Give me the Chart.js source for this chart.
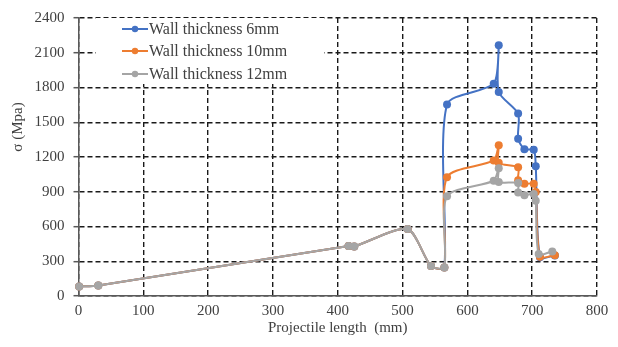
<!DOCTYPE html>
<html><head><meta charset="utf-8">
<script src="https://cdn.jsdelivr.net/npm/chart.js@4"></script>
<style>html,body{margin:0;padding:0;background:#fff;overflow:hidden}</style>
</head><body>
<canvas id="c" width="618" height="347" style="display:block;width:618px;height:347px"></canvas>
<script>
const seriesNames = ['Wall thickness 6mm', 'Wall thickness 10mm', 'Wall thickness 12mm'];
const seriesColors = ['#4472C4', '#ED7D31', '#A5A5A5'];
// shared segment (all three series)
const commonX = [1, 30.6, 416.7, 425.5, 507.8, 543.9, 564.5];
const commonY = [82, 91, 431, 428, 578, 258, 247];
// per-series tails
const tail6X  = [568.6, 640.6, 648.4, 648.4, 678.3, 678.3, 688, 702.4, 705.5, 712, 735];
const tail6Y  = [1654, 1833, 2164, 1762, 1575, 1357, 1267, 1262, 1120, 335, 350];
const tail10X = [568.6, 640.6, 648.4, 648.4, 678.3, 678.3, 688, 702.4, 705.5, 712, 735];
const tail10Y = [1026, 1170, 1301, 1150, 1111, 1000, 968, 970, 898, 338, 352];
const tail12X = [568.6, 640.6, 648.4, 648.4, 678.3, 678.3, 688, 702.4, 705.5, 710, 731];
const tail12Y = [861, 995, 1102, 985, 975, 893, 870, 881, 822, 362, 385];
const xTicks = [0, 100, 200, 300, 400, 500, 600, 700, 800];
const yTicks = [0, 300, 600, 900, 1200, 1500, 1800, 2100, 2400];
const xTitle = 'Projectile length  (mm)';
const yTitle = 'σ (Mpa)';

function pts(tx, ty) {
  const xs = commonX.concat(tx), ys = commonY.concat(ty);
  return xs.map((x, i) => ({x: x, y: ys[i]}));
}
const tails = [[tail6X, tail6Y], [tail10X, tail10Y], [tail12X, tail12Y]];
const FONT = 'Liberation Serif';
const TXT = '#404040';

const datasets = seriesNames.map((n, i) => ({
  label: n,
  data: pts(tails[i][0], tails[i][1]),
  borderColor: seriesColors[i],
  backgroundColor: seriesColors[i],
  pointBackgroundColor: seriesColors[i],
  pointBorderColor: seriesColors[i],
  pointRadius: 4,
  pointBorderWidth: 0,
  borderWidth: 2,
  tension: 0.25,
  clip: false,
  order: 3 - i
}));

const overlay = {
  id: 'overlay',
  afterDraw(chart) {
    const ctx = chart.ctx;
    ctx.save();
    // y title
    ctx.fillStyle = TXT;
    ctx.font = '15px "' + FONT + '"';
    ctx.translate(18, 127);
    ctx.rotate(-Math.PI / 2);
    ctx.textAlign = 'center';
    ctx.textBaseline = 'middle';
    ctx.fillText(yTitle, 0, 0);
    ctx.restore();
    // legend
    ctx.save();
    ctx.fillStyle = '#fff';
    ctx.fillRect(96, 18, 228, 66);
    const ys = [29, 51, 74];
    seriesNames.forEach((n, i) => {
      const y = ys[i];
      ctx.strokeStyle = seriesColors[i];
      ctx.lineWidth = 2;
      ctx.beginPath(); ctx.moveTo(122, y); ctx.lineTo(148, y); ctx.stroke();
      ctx.fillStyle = seriesColors[i];
      ctx.beginPath(); ctx.arc(135, y, 3.2, 0, Math.PI * 2); ctx.fill();
      ctx.fillStyle = TXT;
      ctx.font = '16px "' + FONT + '"';
      ctx.textAlign = 'left';
      ctx.textBaseline = 'middle';
      ctx.fillText(n, 149, y + 1);
    });
    ctx.restore();
  }
};

new Chart(document.getElementById('c'), {
  type: 'line',
  data: {datasets: datasets},
  plugins: [overlay],
  options: {
    responsive: false,
    animation: false,
    devicePixelRatio: 1,
    layout: {padding: {left: 0, right: 21, top: 15, bottom: 0}},
    plugins: {legend: {display: false}, tooltip: {enabled: false}},
    scales: {
      x: {
        type: 'linear', min: 0, max: 800,
        afterBuildTicks: s => { s.ticks = xTicks.map(v => ({value: v})); },
        afterFit: s => { s.height = 51; },
        grid: {color: '#1a1a1a', lineWidth: 1.4, drawTicks: false},
        border: {display: true, color: '#595959', width: 1.5, dash: [5, 3]},
        ticks: {font: {family: FONT, size: 15}, color: TXT, padding: 6, maxRotation: 0, callback: v => String(v)},
        title: {display: true, text: xTitle, font: {family: FONT, size: 15}, color: TXT, padding: 10}
      },
      y: {
        min: 0, max: 2400,
        afterBuildTicks: s => { s.ticks = yTicks.map(v => ({value: v})); },
        afterFit: s => { s.width = 78.5; },
        grid: {color: '#1a1a1a', lineWidth: 1.4, drawTicks: true, tickLength: 5, tickColor: '#595959', tickWidth: 1.5, tickBorderDash: []},
        border: {display: true, color: '#595959', width: 1.5, dash: [5, 3]},
        ticks: {font: {family: FONT, size: 15}, color: TXT, padding: 9, callback: v => String(v)}
      }
    }
  }
});
</script>
</body></html>
